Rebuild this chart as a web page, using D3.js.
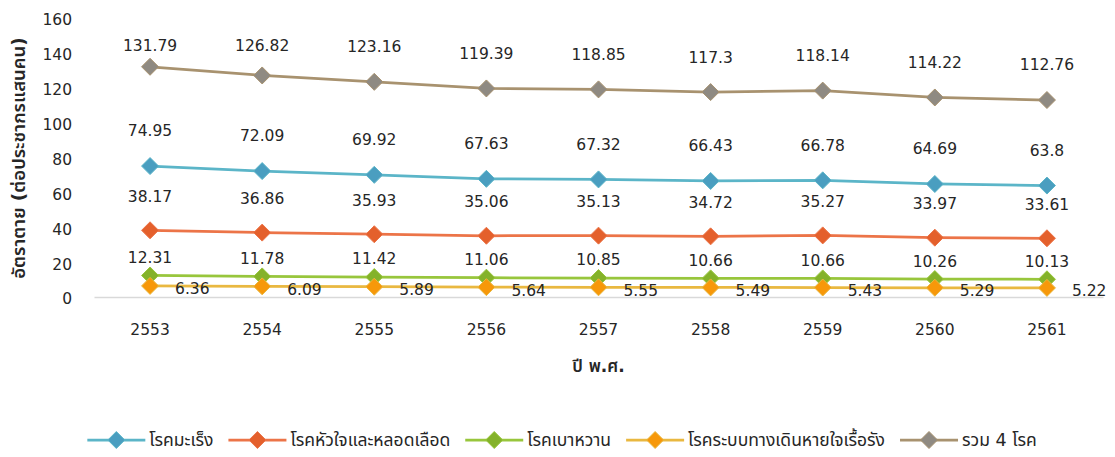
<!DOCTYPE html>
<html>
<head>
<meta charset="utf-8">
<script src="https://cdn.jsdelivr.net/npm/d3@7/dist/d3.min.js"></script>
<style>
  html, body { margin: 0; padding: 0; background: #ffffff; }
  svg { display: block; }
  text { font-family: "DejaVu Sans", "Noto Sans Thai", "Noto Sans", sans-serif; fill: #262626; }
</style>
</head>
<body>
<svg id="chart" width="1115" height="457"></svg>
<script>
// ---- data ----
const years = ["2553", "2554", "2555", "2556", "2557", "2558", "2559", "2560", "2561"];
const seriesNames = ["โรคมะเร็ง", "โรคหัวใจและหลอดเลือด", "โรคเบาหวาน", "โรคระบบทางเดินหายใจเรื้อรัง", "รวม 4 โรค"];
const cancer   = [74.95, 72.09, 69.92, 67.63, 67.32, 66.43, 66.78, 64.69, 63.8];
const heart    = [38.17, 36.86, 35.93, 35.06, 35.13, 34.72, 35.27, 33.97, 33.61];
const diabetes = [12.31, 11.78, 11.42, 11.06, 10.85, 10.66, 10.66, 10.26, 10.13];
const copd     = [6.36, 6.09, 5.89, 5.64, 5.55, 5.49, 5.43, 5.29, 5.22];
const total    = [131.79, 126.82, 123.16, 119.39, 118.85, 117.3, 118.14, 114.22, 112.76];
const yTicks = [0, 20, 40, 60, 80, 100, 120, 140, 160];
const yTitle = "อัตราตาย (ต่อประชากรแสนคน)";
const xTitle = "ปี พ.ศ.";

// ---- styles ----
const styles = [
  { values: cancer,   line: "#5bb5c8", marker: "#4a9ec0", label: "above", off: 35, minY: 0 },
  { values: heart,    line: "#ec7448", marker: "#e4602c", label: "above", off: 34, minY: 0 },
  { values: diabetes, line: "#98c63c", marker: "#84b22a", label: "above", off: 18, minY: 0 },
  { values: copd,     line: "#e9b840", marker: "#f7980a", label: "right", off: 0,  minY: 0 },
  { values: total,    line: "#a8926f", marker: "#8f8a82", label: "above", off: 35, minY: 46 }
];

const svg = d3.select("#chart");
const plotLeft = 94, plotRight = 1103, plotTop = 17.5, plotBottom = 297;

const x = d3.scaleBand().domain(years).range([plotLeft, plotRight]);
const cx = d => x(d) + x.bandwidth() / 2;
const y = d3.scaleLinear().domain([0, 160]).range([plotBottom, plotTop]);

// y axis tick labels
const yAxis = svg.append("g").attr("transform", `translate(${plotLeft},0)`)
  .call(d3.axisLeft(y).tickValues(yTicks).tickSize(0).tickPadding(22));
yAxis.select(".domain").remove();
yAxis.selectAll("text").attr("font-size", 15.5).attr("dy", "0.45em")
  .style("font-family", "DejaVu Sans, sans-serif").attr("fill", "#262626");

// x axis
const xAxis = svg.append("g").attr("transform", `translate(0,${plotBottom})`)
  .call(d3.axisBottom(x).tickSize(0).tickPadding(27));
xAxis.select(".domain").attr("stroke", "#d9d9d9").attr("stroke-width", 1.5);
xAxis.selectAll("text").attr("font-size", 15.5)
  .style("font-family", "DejaVu Sans, sans-serif").attr("fill", "#262626");

// axis titles
svg.append("text")
  .attr("transform", `translate(19,158) rotate(-90)`)
  .attr("text-anchor", "middle").attr("dy", "0.35em")
  .attr("font-size", 18.5).attr("font-weight", 600)
  .text(yTitle);
svg.append("text")
  .attr("x", (plotLeft + plotRight) / 2).attr("y", 366)
  .attr("text-anchor", "middle").attr("dy", "0.35em")
  .attr("font-size", 17).attr("font-weight", 600)
  .text(xTitle);

const diamond = "M0,-8.5L8.5,0L0,8.5L-8.5,0Z";
const lineGen = d3.line().x((d, i) => cx(years[i])).y(d => y(d));

styles.forEach((s, si) => {
  const g = svg.append("g");
  g.append("path").datum(s.values)
    .attr("d", lineGen).attr("fill", "none")
    .attr("stroke", s.line).attr("stroke-width", 2.75);
  g.selectAll("path.m").data(s.values).enter().append("path")
    .attr("class", "m")
    .attr("d", diamond)
    .attr("transform", (d, i) => `translate(${cx(years[i])},${y(d)})`)
    .attr("fill", s.marker).attr("stroke", s.line).attr("stroke-width", 1);
});

// labels
styles.forEach(s => {
  const g = svg.append("g");
  g.selectAll("text").data(s.values).enter().append("text")
    .attr("font-size", 15.5)
    .attr("dy", "0.35em")
    .attr("text-anchor", s.label === "right" ? "start" : "middle")
    .attr("x", (d, i) => s.label === "right" ? cx(years[i]) + 25 : cx(years[i]))
    .attr("y", d => s.label === "right" ? y(d) + 3 : Math.max(y(d) - s.off, s.minY))
    .text(d => d);
});

// legend
const legend = svg.append("g");
let lx = 0;
seriesNames.forEach((name, i) => {
  const item = legend.append("g").attr("transform", `translate(${lx},0)`);
  item.append("line").attr("x1", 0).attr("x2", 58).attr("y1", 0).attr("y2", 0)
    .attr("stroke", styles[i].line).attr("stroke-width", 2.75);
  item.append("path").attr("d", diamond).attr("transform", "translate(29,0)")
    .attr("fill", styles[i].marker).attr("stroke", styles[i].line).attr("stroke-width", 1);
  const t = item.append("text").attr("x", 62).attr("dy", "0.35em")
    .attr("font-size", 17.5).text(name);
  const w = t.node().getComputedTextLength();
  lx += 62 + w + 15;
});
const totalW = lx - 15;
legend.attr("transform", `translate(${562 - totalW / 2},440)`);
</script>
</body>
</html>
